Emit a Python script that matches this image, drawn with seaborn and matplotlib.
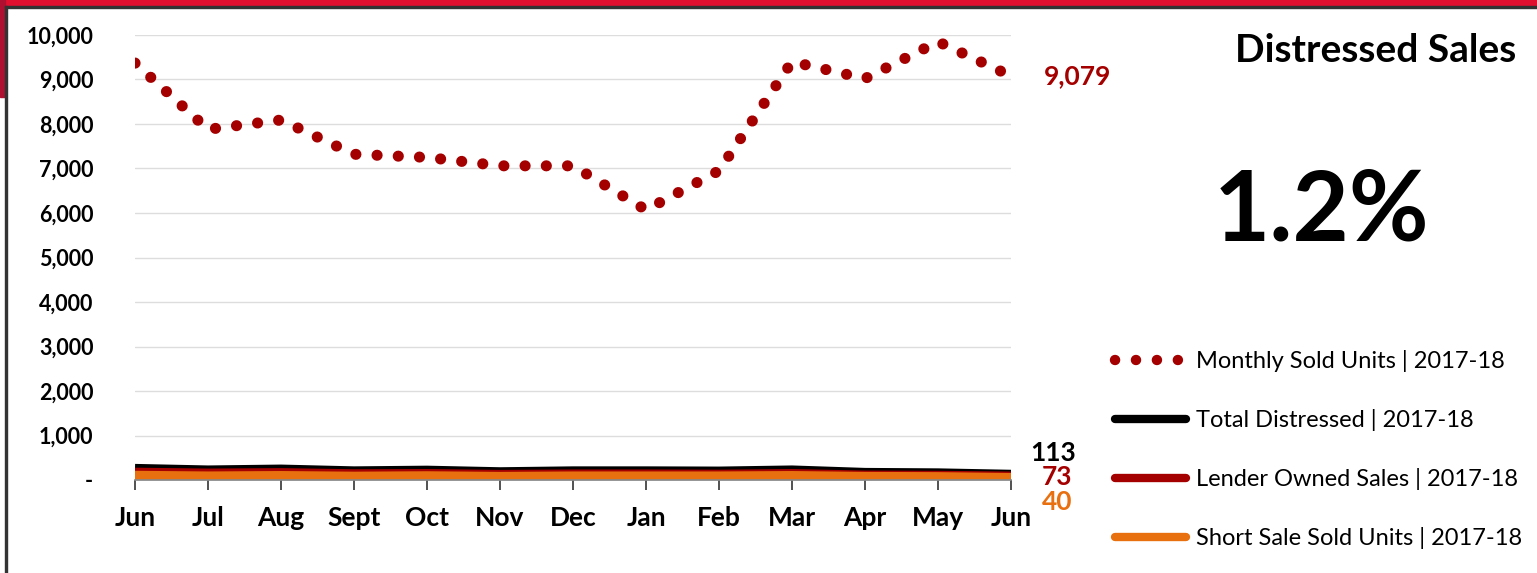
import numpy as np
import pandas as pd
import seaborn as sns
import matplotlib.pyplot as plt
from matplotlib.lines import Line2D
from matplotlib.patches import Rectangle

months = ['Jun', 'Jul', 'Aug', 'Sept', 'Oct', 'Nov', 'Dec', 'Jan', 'Feb', 'Mar', 'Apr', 'May', 'Jun']
monthly_sold = [9370, 7880, 8090, 7320, 7250, 7060, 7060, 6070, 6950, 9400, 9020, 9850, 9079]
total_distressed = [245, 210, 230, 190, 205, 170, 190, 190, 185, 210, 155, 145, 113]
lender_owned = [160, 140, 150, 125, 130, 110, 120, 120, 115, 130, 95, 90, 73]
short_sale = [90, 75, 85, 70, 80, 65, 75, 75, 75, 85, 65, 60, 40]
y_ticks = [0, 1000, 2000, 3000, 4000, 5000, 6000, 7000, 8000, 9000, 10000]

RED = '#a50000'
ORANGE = '#e8700f'
W, H = 1537, 573

sns.set_theme(style='white')
plt.rcParams['font.family'] = ['Lato', 'DejaVu Sans']
plt.rcParams['text.color'] = 'black'

df = pd.DataFrame({'pos': np.arange(len(months)), 'monthly': monthly_sold,
                   'total': total_distressed, 'lender': lender_owned, 'short': short_sale})

fig = plt.figure(figsize=(W / 100, H / 100), dpi=100)
ax = fig.add_axes([135 / W, 1 - 480 / H, (1011 - 135) / W, (480 - 35) / H])

# distressed lines, thick
sns.lineplot(data=df, x='pos', y='total', ax=ax, color='black', lw=7.5, solid_capstyle='butt')
sns.lineplot(data=df, x='pos', y='lender', ax=ax, color=RED, lw=7.5, solid_capstyle='butt')
sns.lineplot(data=df, x='pos', y='short', ax=ax, color=ORANGE, lw=7.5, solid_capstyle='butt')
# monthly sold units, round dots
sns.lineplot(data=df, x='pos', y='monthly', ax=ax, color=RED, lw=8,
             linestyle=(0, (0.01, 1.9)), dash_capstyle='round')

ax.set_xlim(0, len(months) - 1)
ax.set_ylim(0, 10000)
ax.set_xticks(df['pos'])
ax.set_xticklabels(months, fontsize=19, fontweight='bold')
ax.set_yticks(y_ticks)
ax.set_yticklabels(['-' if v == 0 else f'{v:,}' for v in y_ticks], fontsize=15.5, fontweight='bold')
ax.set_xlabel('')
ax.set_ylabel('')
ax.grid(axis='y', color='#dddddd', lw=1)
ax.set_axisbelow(True)
for s in ['top', 'right', 'left']:
    ax.spines[s].set_visible(False)
ax.spines['bottom'].set_color('#888888')
ax.tick_params(axis='x', direction='out', length=7, width=1.2, color='#333333', bottom=True, pad=12,
               labelcolor='black')
ax.tick_params(axis='y', length=0, pad=30, labelcolor='black')

# end value labels
ax.annotate(f'{monthly_sold[-1]:,}', (12, monthly_sold[-1]), xytext=(24, 0), textcoords='offset points',
            ha='left', va='center', color=RED, fontsize=19, fontweight='bold', annotation_clip=False)
ax.annotate(f'{total_distressed[-1]}', (12, total_distressed[-1]), xytext=(14, 16), textcoords='offset points',
            ha='left', va='center', color='black', fontsize=19, fontweight='bold', annotation_clip=False)
ax.annotate(f'{lender_owned[-1]}', (12, lender_owned[-1]), xytext=(22, 0), textcoords='offset points',
            ha='left', va='center', color=RED, fontsize=19, fontweight='bold', annotation_clip=False)
ax.annotate(f'{short_sale[-1]}', (12, short_sale[-1]), xytext=(22, -17), textcoords='offset points',
            ha='left', va='center', color=ORANGE, fontsize=19, fontweight='bold', annotation_clip=False)

# headline texts
fig.text(1516 / W, 1 - 51 / H, 'Distressed Sales', ha='right', va='center', fontsize=28, fontweight='bold')
fig.text(1322 / W, 1 - 212 / H, '1.2%', ha='center', va='center', fontsize=70, fontweight='bold')

handles = [
    Line2D([], [], color=RED, lw=7.5, linestyle=(0, (0.01, 2.0)), dash_capstyle='round'),
    Line2D([], [], color='black', lw=6, solid_capstyle='round'),
    Line2D([], [], color=RED, lw=6, solid_capstyle='round'),
    Line2D([], [], color=ORANGE, lw=6, solid_capstyle='round'),
]
labels = ['Monthly Sold Units | 2017-18', 'Total Distressed | 2017-18',
          'Lender Owned Sales | 2017-18', 'Short Sale Sold Units | 2017-18']
fig.legend(handles, labels, loc='upper left', bbox_to_anchor=(1094 / W, 1 - 329 / H), frameon=False,
           fontsize=17, labelspacing=1.57, handlelength=3.0, handletextpad=0.4)

# page frame
fig.patches.append(Rectangle((0, 1 - 6 / H), 1, 6 / H, transform=fig.transFigure, color='#e0102e', zorder=0))
fig.patches.append(Rectangle((0, 1 - 97 / H), 5 / W, 97 / H, transform=fig.transFigure, color='#b01030', zorder=0))
fig.patches.append(Rectangle((5 / W, 1 - 8 / H), 1, 2 / H, transform=fig.transFigure, color='#333333', zorder=1))
fig.patches.append(Rectangle((5 / W, 0), 2 / W, 1 - 6 / H, transform=fig.transFigure, color='#333333', zorder=1))

fig.savefig('out.png', dpi=100)
